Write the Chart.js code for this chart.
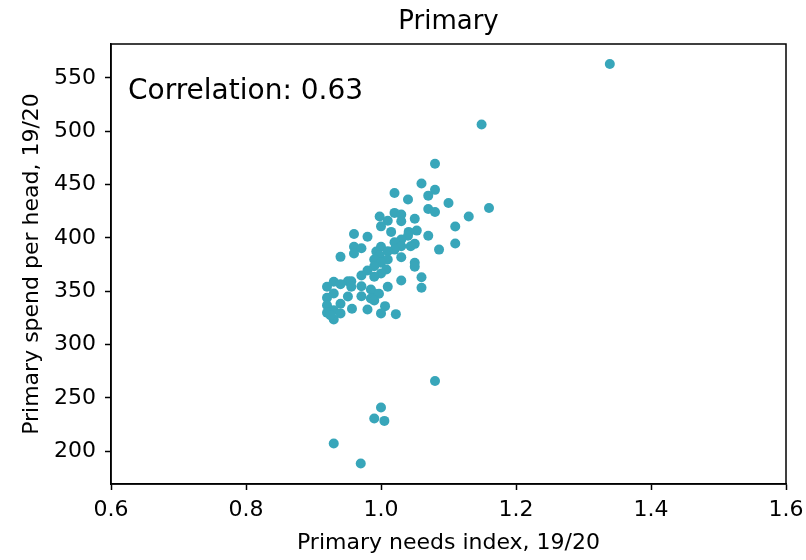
<!DOCTYPE html>
<html>
<head>
<meta charset="utf-8">
<script src="https://cdn.jsdelivr.net/npm/chart.js@4/dist/chart.umd.min.js"></script>
<style>
  html, body { margin: 0; padding: 0; background: #ffffff; }
  #wrap { width: 806px; height: 560px; }
</style>
</head>
<body>
<div id="wrap"><canvas id="c" width="806" height="560"></canvas></div>
<script>
const chartTitle = "Primary";
const xAxisTitle = "Primary needs index, 19/20";
const yAxisTitle = "Primary spend per head, 19/20";
const annotationText = "Correlation: 0.63";

const xTicks = [0.6, 0.8, 1.0, 1.2, 1.4, 1.6];
const yTicks = [200, 250, 300, 350, 400, 450, 500, 550];

const needsIndex = [
  1.080, 1.060, 1.080, 1.020, 1.070, 1.040, 1.100, 1.160, 1.070, 1.080,
  1.020, 1.030, 1.130, 0.998, 1.050, 1.010, 1.030, 1.000, 1.110, 1.053,
  1.041, 1.015, 0.960, 0.980, 1.070, 1.040, 1.030, 1.020, 1.110, 1.050,
  1.044, 1.030, 0.960, 0.971, 1.000, 1.086, 1.020, 0.993, 0.960, 1.010,
  0.940, 0.998, 1.030, 0.990, 1.010, 1.000, 1.050, 1.050, 0.990, 1.008,
  0.980, 1.000, 0.971, 1.060, 0.990, 1.030, 0.930, 0.951, 0.956, 0.940,
  0.920, 0.971, 0.956, 1.010, 1.060, 0.985, 0.930, 0.990, 0.997, 0.951,
  0.971, 0.920, 0.985, 0.990, 0.940, 0.920, 1.006, 0.957, 0.980, 0.930,
  0.920, 0.940, 1.000, 1.022, 0.930, 0.925,
  1.339, 1.149, 1.080, 1.000, 0.990, 1.005, 0.930, 0.970
];
const spendPerHead = [
  469.5, 451.0, 445.0, 442.0, 439.6, 436.0, 432.7, 428.0, 427.0, 424.3,
  423.4, 421.8, 420.0, 420.0, 418.0, 416.0, 415.5, 410.8, 410.6, 406.8,
  405.6, 405.6, 403.7, 401.0, 402.0, 402.0, 398.4, 395.9, 394.7, 394.4,
  392.1, 392.1, 391.6, 390.3, 391.6, 389.0, 389.0, 387.2, 385.3, 387.5,
  382.2, 383.4, 381.8, 379.7, 379.7, 376.6, 376.6, 372.9, 373.4, 370.3,
  369.4, 366.6, 364.7, 363.1, 363.5, 360.0, 358.8, 359.4, 359.4, 356.6,
  354.1, 354.7, 354.1, 354.1, 353.2, 351.6, 347.9, 347.9, 347.6, 345.0,
  345.3, 343.8, 343.2, 341.3, 338.2, 336.9, 336.0, 333.5, 332.9, 332.2,
  329.8, 329.2, 329.2, 328.5, 323.5, 327.6,
  563.0, 506.3, 265.8, 240.9, 230.6, 228.4, 207.2, 188.5
];

const points = needsIndex.map((x, i) => ({ x: x, y: spendPerHead[i] }));

const FONT = "'DejaVu Sans', sans-serif";

const framePlugin = {
  id: 'frame',
  afterDatasetsDraw(chart) {
    const a = chart.chartArea;
    const ctx = chart.ctx;
    ctx.save();
    ctx.strokeStyle = '#000';
    ctx.lineWidth = 1.5;
    ctx.strokeRect(a.left, a.top, a.right - a.left, a.bottom - a.top);
    ctx.fillStyle = '#000';
    ctx.font = "28px " + FONT;
    ctx.textAlign = 'left';
    ctx.textBaseline = 'alphabetic';
    ctx.fillText(annotationText, a.left + 17, a.top + 55);
    ctx.restore();
  }
};

new Chart(document.getElementById('c'), {
  type: 'scatter',
  data: {
    datasets: [{
      data: points,
      backgroundColor: '#38a6ba',
      borderWidth: 0,
      pointRadius: 5,
      pointHoverRadius: 5
    }]
  },
  options: {
    responsive: false,
    animation: false,
    events: [],
    layout: { padding: { top: 0, right: 20, bottom: 0, left: 0 } },
    plugins: {
      legend: { display: false },
      tooltip: { enabled: false },
      title: {
        display: true,
        text: chartTitle,
        fullSize: false,
        color: '#000',
        font: { family: FONT, size: 26, weight: 'normal' },
        padding: { top: 6.4, bottom: 6.4 }
      }
    },
    scales: {
      x: {
        type: 'linear',
        min: 0.6,
        max: 1.6,
        afterFit(s) { s.height = 76; s.paddingLeft = 0; s.paddingRight = 0; },
        afterBuildTicks(s) { s.ticks = xTicks.map(v => ({ value: v })); },
        ticks: {
          color: '#000',
          font: { family: FONT, size: 22 },
          padding: 7,
          maxRotation: 0,
          callback: v => Number(v).toFixed(1)
        },
        grid: {
          display: true,
          drawOnChartArea: false,
          drawTicks: true,
          tickLength: 6,
          tickColor: '#000',
          tickWidth: 1.5
        },
        border: { display: true, color: '#000', width: 1.5 },
        title: {
          display: true,
          text: xAxisTitle,
          color: '#000',
          font: { family: FONT, size: 22 },
          padding: { top: 4, bottom: 4 }
        }
      },
      y: {
        type: 'linear',
        min: 169.25,
        max: 581.75,
        afterFit(s) { s.width = 111; s.paddingTop = 0; s.paddingBottom = 0; },
        afterBuildTicks(s) { s.ticks = yTicks.map(v => ({ value: v })); },
        ticks: {
          color: '#000',
          font: { family: FONT, size: 22 },
          padding: 9,
          callback: v => String(v)
        },
        grid: {
          display: true,
          drawOnChartArea: false,
          drawTicks: true,
          tickLength: 6,
          tickColor: '#000',
          tickWidth: 1.5
        },
        border: { display: true, color: '#000', width: 1.5 },
        title: {
          display: true,
          text: yAxisTitle,
          color: '#000',
          font: { family: FONT, size: 22 },
          padding: { top: 19, bottom: 19 }
        }
      }
    }
  },
  plugins: [framePlugin]
});
</script>
</body>
</html>
